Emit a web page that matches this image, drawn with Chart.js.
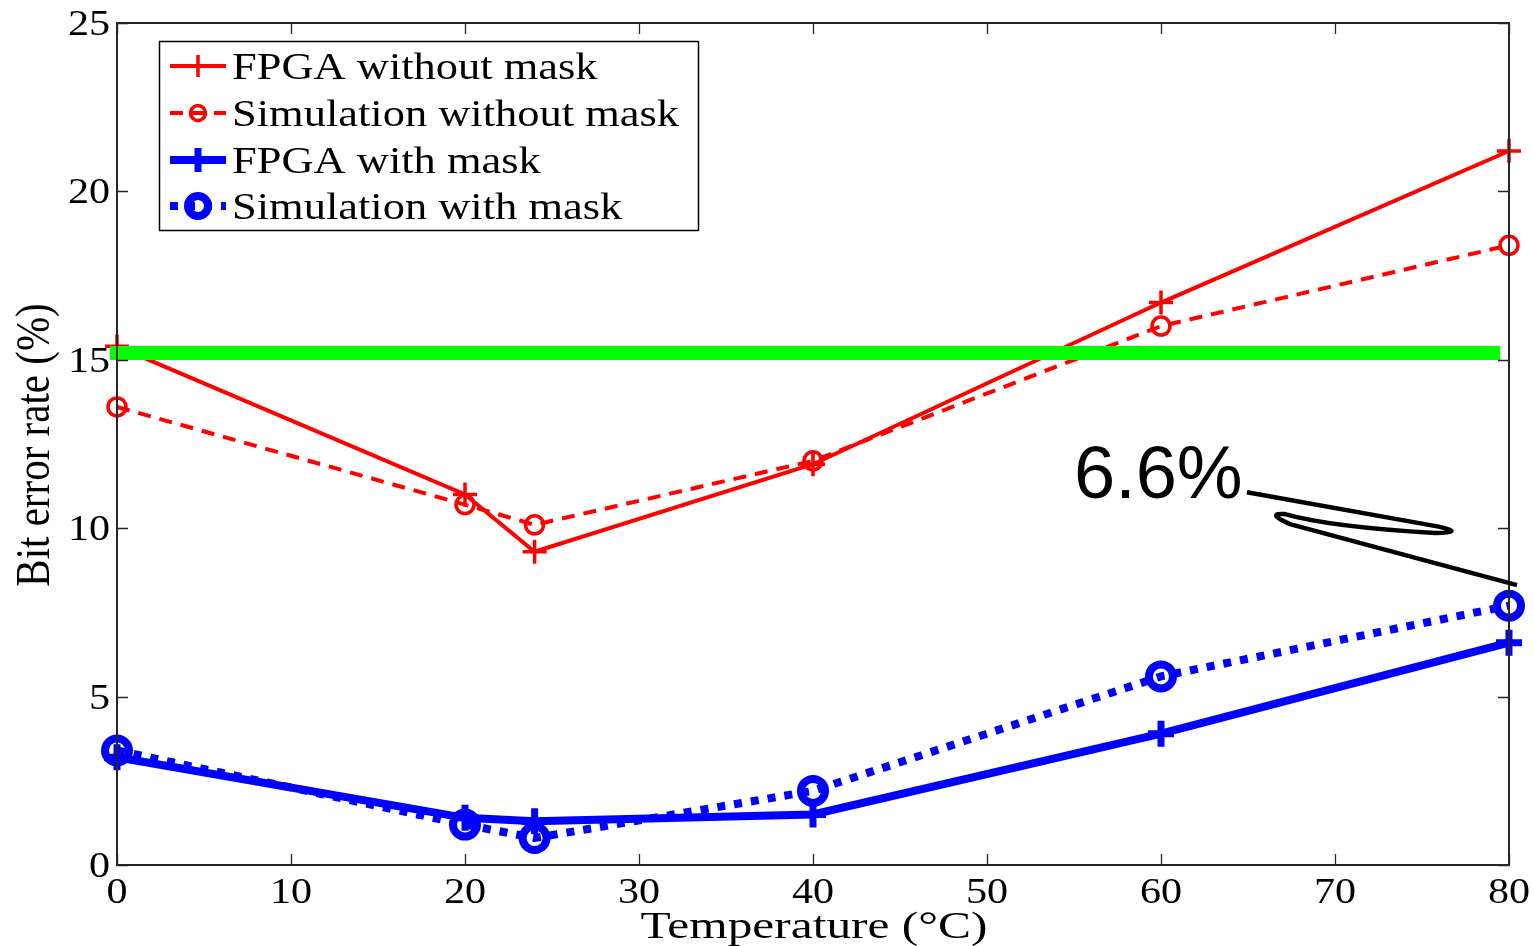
<!DOCTYPE html>
<html><head><meta charset="utf-8">
<script src="https://cdn.jsdelivr.net/npm/chart.js@4/dist/chart.umd.min.js"></script>
<style>html,body{margin:0;padding:0;background:#fff;overflow:hidden}</style>
</head><body>
<canvas id="c" width="1534" height="946" style="width:1534px;height:946px;display:block"></canvas>
<script>
// ---- data ----
const temperatures = [0, 20, 24, 40, 60, 80];
const fpgaWithoutMask = [15.4, 11.0, 9.3, 11.9, 16.7, 21.2];
const simWithoutMask = [13.6, 10.7, 10.1, 12.0, 16.0, 18.4];
const fpgaWithMask = [3.2, 1.4, 1.3, 1.5, 3.9, 6.6];
const simWithMask = [3.4, 1.2, 0.8, 2.2, 5.6, 7.7];
const thresholdX = [-0.4, 79.5];
const thresholdY = [15.2, 15.2];
const seriesLabels = ['FPGA without mask', 'Simulation without mask', 'FPGA with mask', 'Simulation with mask'];
const xTicks = [0, 10, 20, 30, 40, 50, 60, 70, 80];
const yTicks = [0, 5, 10, 15, 20, 25];
const xTitle = 'Temperature (\u00B0C)';
const yTitle = 'Bit error rate (%)';
const annotationText = '6.6%';
const annotationAnchor = [55.0, 10.9];
const annotationCmd = ['M', 'L', 'Q', 'Q', 'Q', 'L'];
const annotationPathX = [64.94, 76.03, 77.47, 75.75, 69.71, 67.13, 65.98, 67.41, 80.46];
const annotationPathY = [11.07, 10.04, 9.86, 9.86, 10.04, 10.42, 10.45, 10.12, 8.31];

const pts = (xs, ys) => xs.map((x, i) => ({x: x, y: ys[i]}));
const RED = '#ff0000', BLUE = '#0000ff', GREEN = '#00ff00';
const SERIF = '"Liberation Serif", "Times New Roman", serif';

function stretchText(ctx, text, x, y, sx, align) {
  ctx.save();
  ctx.translate(x, y);
  ctx.scale(sx, 1);
  ctx.textAlign = align;
  ctx.textBaseline = 'alphabetic';
  ctx.fillText(text, 0, 0);
  ctx.restore();
}

const figurePlugin = {
  id: 'figure',
  afterDatasetsDraw(chart) {
    const ctx = chart.ctx, a = chart.chartArea;
    const xs = chart.scales.x, ys = chart.scales.y;
    ctx.save();
    // axes box
    ctx.strokeStyle = '#262626';
    ctx.lineWidth = 2;
    ctx.strokeRect(a.left, a.top, a.right - a.left, a.bottom - a.top);
    ctx.lineWidth = 1.3;
    const tl = 11;
    ctx.beginPath();
    xTicks.forEach(v => {
      const px = Math.round(xs.getPixelForValue(v)) + 0.5;
      ctx.moveTo(px, a.bottom); ctx.lineTo(px, a.bottom - tl);
      ctx.moveTo(px, a.top); ctx.lineTo(px, a.top + tl);
    });
    yTicks.forEach(v => {
      const py = Math.round(ys.getPixelForValue(v)) + 0.5;
      ctx.moveTo(a.left, py); ctx.lineTo(a.left + tl, py);
      ctx.moveTo(a.right, py); ctx.lineTo(a.right - tl, py);
    });
    ctx.stroke();
    // tick labels
    ctx.fillStyle = '#000';
    ctx.font = '36px ' + SERIF;
    xTicks.forEach(v => {
      stretchText(ctx, String(v), xs.getPixelForValue(v), a.bottom + 38, 1.17, 'center');
    });
    yTicks.forEach(v => {
      stretchText(ctx, String(v), a.left - 7, ys.getPixelForValue(v) + 12, 1.17, 'right');
    });
    // axis titles
    ctx.font = '38px ' + SERIF;
    stretchText(ctx, xTitle, (a.left + a.right) / 2 + 1, a.bottom + 73, 1.3, 'center');
    ctx.save();
    ctx.translate(a.left - 68, (a.top + a.bottom) / 2 + 1);
    ctx.rotate(-Math.PI / 2);
    ctx.scale(1, 1.17);
    ctx.font = '41px ' + SERIF;
    ctx.textAlign = 'center';
    ctx.fillText(yTitle, 0, 0);
    ctx.restore();
    // annotation
    ctx.font = '74px "Liberation Sans", Arial, sans-serif';
    ctx.textAlign = 'left';
    ctx.fillText(annotationText, xs.getPixelForValue(annotationAnchor[0]), ys.getPixelForValue(annotationAnchor[1]));
    ctx.strokeStyle = '#000';
    ctx.lineWidth = 4.5;
    ctx.lineJoin = 'round';
    ctx.beginPath();
    let k = 0;
    const P = i => [xs.getPixelForValue(annotationPathX[i]), ys.getPixelForValue(annotationPathY[i])];
    annotationCmd.forEach(c => {
      if (c === 'M') { const p = P(k++); ctx.moveTo(p[0], p[1]); }
      else if (c === 'L') { const p = P(k++); ctx.lineTo(p[0], p[1]); }
      else { const q = P(k++), p = P(k++); ctx.quadraticCurveTo(q[0], q[1], p[0], p[1]); }
    });
    ctx.stroke();
    // legend
    const lx = a.left + 42, ly = a.top + 18, lw = 539, lh = 189;
    ctx.fillStyle = '#fff';
    ctx.fillRect(lx, ly, lw, lh);
    ctx.strokeStyle = '#000';
    ctx.lineWidth = 1.5;
    ctx.strokeRect(lx + 0.5, ly + 0.5, lw, lh);
    const rowY = [25, 72, 119, 165];
    seriesLabels.forEach((label, i) => {
      const ds = chart.data.datasets[i];
      const cy = ly + rowY[i];
      ctx.save();
      ctx.strokeStyle = ds.borderColor;
      ctx.lineWidth = ds.borderWidth;
      ctx.setLineDash(ds.borderDash || []);
      ctx.beginPath();
      ctx.moveTo(lx + 11, cy); ctx.lineTo(lx + 67, cy);
      ctx.stroke();
      ctx.setLineDash([]);
      ctx.strokeStyle = ds.borderColor;
      ctx.fillStyle = 'rgba(0,0,0,0)';
      ctx.lineWidth = ds.legendMarker.borderWidth;
      Chart.helpers.drawPoint(ctx, {pointStyle: ds.pointStyle, rotation: 0, radius: ds.legendMarker.radius, borderWidth: ds.legendMarker.borderWidth}, lx + 39, cy);
      ctx.restore();
      ctx.fillStyle = '#000';
      ctx.font = '38px ' + SERIF;
      stretchText(ctx, label, lx + 73, cy + 13, 1.17, 'left');
    });
    ctx.restore();
  }
};

new Chart(document.getElementById('c'), {
  type: 'line',
  data: {
    datasets: [
      {label: seriesLabels[0], data: pts(temperatures, fpgaWithoutMask), borderColor: RED, borderWidth: 4,
       pointStyle: 'cross', pointRadius: 12, pointBorderWidth: 3.5, pointBorderColor: RED, pointBackgroundColor: RED,
       legendMarker: {radius: 11, borderWidth: 3.5}},
      {label: seriesLabels[1], data: pts(temperatures, simWithoutMask), borderColor: RED, borderWidth: 4, borderDash: [13, 9],
       pointStyle: 'circle', pointRadius: 9, pointBorderWidth: 3.5, pointBorderColor: RED, pointBackgroundColor: 'rgba(0,0,0,0)',
       legendMarker: {radius: 7.5, borderWidth: 3.5}},
      {label: seriesLabels[2], data: pts(temperatures, fpgaWithMask), borderColor: BLUE, borderWidth: 8,
       pointStyle: 'cross', pointRadius: 13, pointBorderWidth: 7, pointBorderColor: BLUE, pointBackgroundColor: BLUE,
       legendMarker: {radius: 12, borderWidth: 7}},
      {label: seriesLabels[3], data: pts(temperatures, simWithMask), borderColor: BLUE, borderWidth: 8, borderDash: [8, 9],
       pointStyle: 'circle', pointRadius: 12, pointBorderWidth: 8, pointBorderColor: BLUE, pointBackgroundColor: 'rgba(0,0,0,0)',
       legendMarker: {radius: 10, borderWidth: 8}},
      {label: 'threshold', data: pts(thresholdX, thresholdY), borderColor: GREEN, borderWidth: 14, pointRadius: 0, order: -1}
    ]
  },
  options: {
    responsive: false,
    animation: false,
    events: [],
    devicePixelRatio: 1,
    layout: {padding: {left: 117, right: 25, top: 23, bottom: 81}},
    elements: {line: {tension: 0, borderCapStyle: 'butt', borderJoinStyle: 'miter'}},
    datasets: {line: {clip: false}},
    plugins: {legend: {display: false}, tooltip: {enabled: false}},
    scales: {
      x: {type: 'linear', min: 0, max: 80, display: false},
      y: {type: 'linear', min: 0, max: 25, display: false}
    }
  },
  plugins: [figurePlugin]
});
</script>
</body></html>
